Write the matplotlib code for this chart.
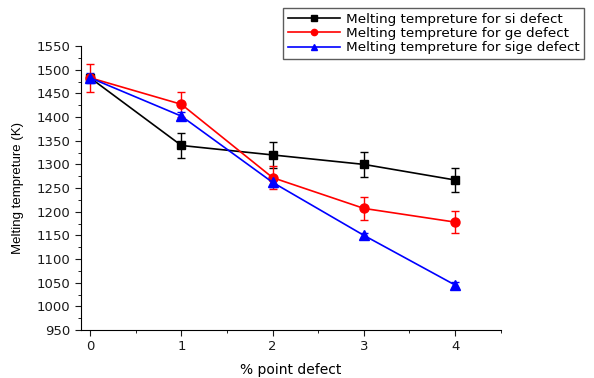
import matplotlib
matplotlib.use("Agg")
import matplotlib.pyplot as plt
from matplotlib.ticker import MultipleLocator
from matplotlib.lines import Line2D

plt.rcParams['font.family'] = ['DejaVu Sans']

x = [0, 1, 2, 3, 4]
si = [1483, 1340, 1320, 1300, 1267]
si_err = [5, 26, 27, 26, 25]
ge = [1483, 1427, 1272, 1207, 1178]
ge_err = [30, 27, 25, 25, 23]
sige = [1483, 1402, 1262, 1150, 1045]
sige_err = [10, 8, 10, 6, 6]
labels = ['Melting tempreture for si defect',
          'Melting tempreture for ge defect',
          'Melting tempreture for sige defect']

fig = plt.figure(figsize=(5.94, 3.78), dpi=100)
ax = fig.add_axes([0.1364, 0.127, 0.843 - 0.1364, 0.878 - 0.127])

styles = [('black', 's', 6), ('red', 'o', 6.5), ('blue', '^', 7)]
for (c, m, s), y, e in zip(styles, [si, ge, sige], [si_err, ge_err, sige_err]):
    ax.errorbar(x, y, yerr=e, color=c, marker=m, ms=s, lw=1.2,
                capsize=3, elinewidth=1)

ax.set_xlim(-0.1, 4.5)
ax.set_ylim(950, 1550)
ax.set_xticks(x)
ax.set_yticks(range(950, 1551, 50))
ax.xaxis.set_minor_locator(MultipleLocator(0.5))
ax.yaxis.set_minor_locator(MultipleLocator(25))
ax.spines['top'].set_visible(False)
ax.spines['right'].set_visible(False)
ax.tick_params(which='major', direction='out', length=4, labelsize=9.5, colors='#1a1a1a')
ax.tick_params(which='minor', direction='out', length=2)
ax.set_xlabel('% point defect', fontsize=10, labelpad=7)
ax.set_ylabel('Melting tempreture (K)', fontsize=9.5, family='Liberation Sans', labelpad=9)

handles = [Line2D([], [], color=c, marker=m, ms=s - 2, lw=1.2) for c, m, s in styles]
leg = fig.legend(handles, labels, loc='upper left', bbox_to_anchor=(283/594, 1 - 8/378),
                 frameon=True, fancybox=False, edgecolor='#333333',
                 borderpad=0.35, labelspacing=0.1, handlelength=3.9, handletextpad=0.4,
                 borderaxespad=0, prop={'size': 9.7})
leg.get_frame().set_linewidth(1)

fig.savefig('out.png', dpi=100)
